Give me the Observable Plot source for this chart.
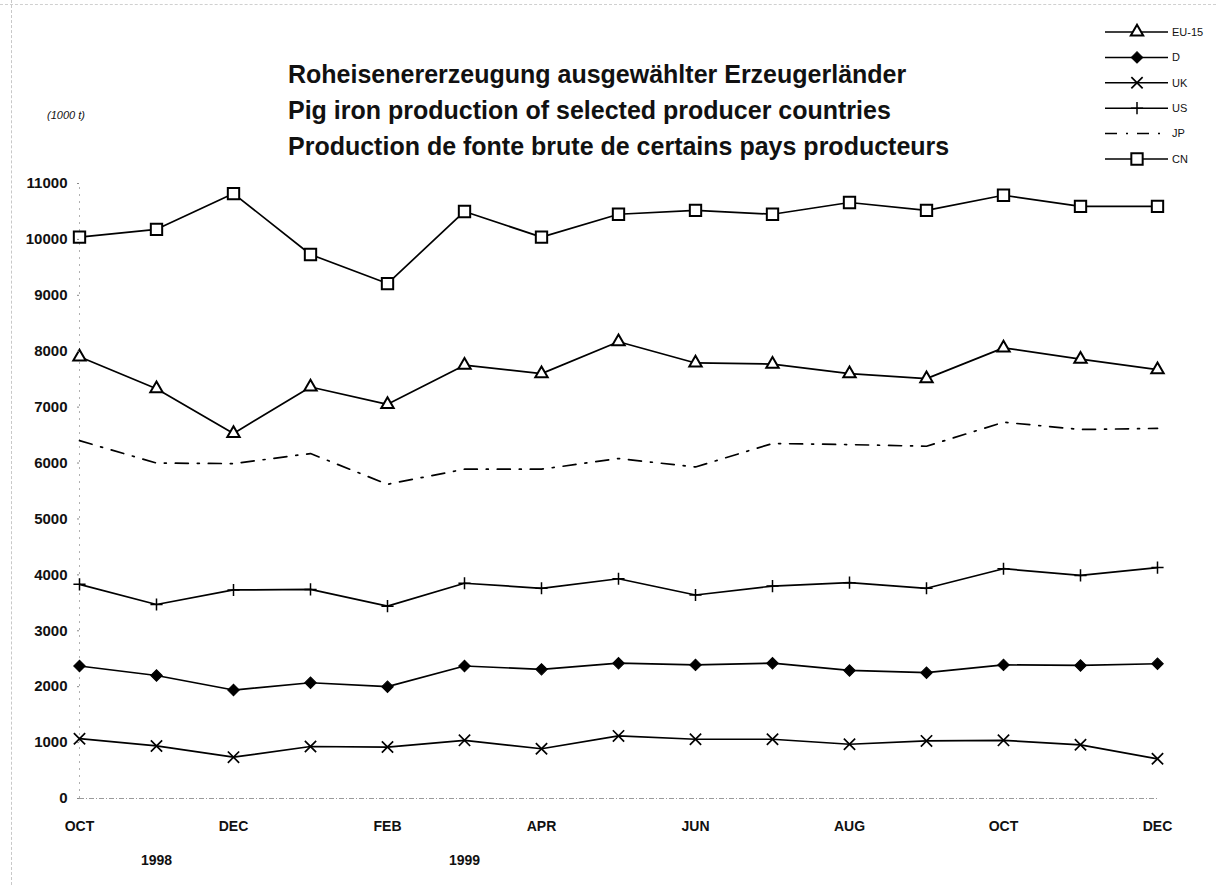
<!DOCTYPE html>
<html><head><meta charset="utf-8">
<script src="https://cdn.jsdelivr.net/npm/d3@7"></script>
<script src="https://cdn.jsdelivr.net/npm/@observablehq/plot@0.6"></script>
<style>
body{margin:0;background:#fff;}
#wrap{position:relative;width:1216px;height:885px;overflow:hidden;background:#fff;font-family:"Liberation Sans Narrow","Arial Narrow","Liberation Sans",Arial,sans-serif;}
#title{position:absolute;left:288px;top:56px;font-size:25px;line-height:36px;font-weight:bold;color:#111;white-space:nowrap;}
#unit{position:absolute;left:47px;top:109px;font-size:11px;font-style:italic;color:#111;}
#chart{position:absolute;left:0;top:0;}
#legend{position:absolute;left:1090px;top:16px;}
#bl{position:absolute;left:11px;top:0;width:0;height:885px;border-left:1px dashed #c8c8c8;}
#bt{position:absolute;left:0;top:4px;width:1216px;height:0;border-top:1px dashed #d0d0d0;}
</style></head>
<body><div id="wrap">
<div id="bl"></div><div id="bt"></div>
<div id="chart"></div>
<div id="title">Roheisenererzeugung ausgewählter Erzeugerländer<br>Pig iron production of selected producer countries<br>Production de fonte brute de certains pays producteurs</div>
<div id="unit">(1000 t)</div>
<div id="legend"></div>
</div>
<script>
const months = ["1998-10","1998-11","1998-12","1999-01","1999-02","1999-03","1999-04","1999-05","1999-06","1999-07","1999-08","1999-09","1999-10","1999-11","1999-12"];
const tickMonths = ["1998-10","1998-12","1999-02","1999-04","1999-06","1999-08","1999-10","1999-12"];
const monthNames = {"01":"JAN","02":"FEB","03":"MAR","04":"APR","05":"MAY","06":"JUN","07":"JUL","08":"AUG","09":"SEP","10":"OCT","11":"NOV","12":"DEC"};
const yearLabels = [{month:"1998-11", text:"1998"}, {month:"1999-03", text:"1999"}];
const yTicks = [0,1000,2000,3000,4000,5000,6000,7000,8000,9000,10000,11000];

const seriesNames = ["EU-15","D","UK","US","JP","CN"];
const EU15 = [7900, 7330, 6530, 7360, 7050, 7750, 7600, 8170, 7790, 7770, 7600, 7510, 8060, 7860, 7670];
const D    = [2370, 2200, 1940, 2070, 2000, 2370, 2310, 2420, 2390, 2420, 2290, 2250, 2390, 2380, 2410];
const UK   = [1070, 940, 740, 930, 920, 1040, 890, 1120, 1060, 1060, 970, 1030, 1040, 960, 710];
const US   = [3830, 3470, 3730, 3740, 3440, 3850, 3760, 3930, 3640, 3800, 3860, 3760, 4110, 3990, 4130];
const JP   = [6400, 6000, 5990, 6170, 5620, 5890, 5890, 6080, 5930, 6350, 6330, 6300, 6730, 6600, 6620];
const CN   = [10040, 10180, 10820, 9730, 9210, 10500, 10040, 10450, 10520, 10450, 10660, 10520, 10790, 10590, 10590];

const styles = {
  "EU-15": {symbol:"triangle", r:4.6, fill:"white", stroke:"black", sw:2, rotate:0},
  "D":     {symbol:"square", r:4.6, fill:"black", stroke:"black", sw:1, rotate:45},
  "UK":    {symbol:"times", r:5.2, fill:"none", stroke:"black", sw:1.7, rotate:0},
  "US":    {symbol:"plus", r:4, fill:"none", stroke:"black", sw:1.5, rotate:0},
  "JP":    {symbol:null, dash:"13,9,2,9"},
  "CN":    {symbol:"square", r:6.4, fill:"white", stroke:"black", sw:2, rotate:0}
};
const valuesBy = {"EU-15":EU15, "D":D, "UK":UK, "US":US, "JP":JP, "CN":CN};

const rows = [];
seriesNames.forEach(s => valuesBy[s].forEach((v,i) => rows.push({series:s, month:months[i], value:v})));

const marks = [
  Plot.ruleY([0], {stroke:"#9a9a9a", strokeWidth:1, strokeDasharray:"5,2,1,2"}),
  Plot.ruleX([months[0]], {y1:0, y2:11000, stroke:"#b0b0b0", strokeWidth:1, strokeDasharray:"2,5"})
];
seriesNames.forEach(s => {
  const st = styles[s];
  const data = rows.filter(d => d.series === s);
  marks.push(Plot.line(data, {x:"month", y:"value", stroke:"black", strokeWidth:1.7, strokeDasharray: st.dash || null}));
});
seriesNames.forEach(s => {
  const st = styles[s];
  if (!st.symbol) return;
  const data = rows.filter(d => d.series === s);
  marks.push(Plot.dot(data, {x:"month", y:"value", symbol:st.symbol, r:st.r, fill:st.fill, stroke:st.stroke, strokeWidth:st.sw, rotate:st.rotate}));
});
marks.push(
  Plot.axisY({ticks:yTicks, tickFormat:"d", tickSize:2, tickPadding:10, fontSize:15, fontWeight:"bold", stroke:"#888"}),
  Plot.axisX({ticks:tickMonths, tickFormat:m => monthNames[m.slice(5)], tickSize:0, tickPadding:23, fontSize:14, fontWeight:"bold"}),
  Plot.text(yearLabels, {x:"month", text:"text", frameAnchor:"bottom", dy:62, fontSize:14, fontWeight:"bold", lineAnchor:"middle"})
);

const chart = Plot.plot({
  width:1216, height:885,
  marginTop:183, marginBottom:87, marginLeft:79, marginRight:59,
  x:{type:"point", domain:months, padding:0, label:null},
  y:{domain:[0,11000], label:null},
  style:{fontFamily:'"Liberation Sans Narrow","Arial Narrow","Liberation Sans",Arial,sans-serif', color:"#111", background:"transparent", overflow:"visible"},
  marks
});
document.getElementById("chart").appendChild(chart);

// legend
const lg = d3.select("#legend").append("svg").attr("width",120).attr("height",160)
  .style("font-family",'"Liberation Sans Narrow","Arial Narrow","Liberation Sans",Arial,sans-serif');
const symMap = {triangle:d3.symbolTriangle, square:d3.symbolSquare, times:d3.symbolTimes, plus:d3.symbolPlus};
seriesNames.forEach((s,i) => {
  const st = styles[s];
  const y = 16 + i*25.4;
  const g = lg.append("g").attr("transform",`translate(0,${y})`);
  g.append("line").attr("x1",15).attr("x2",78).attr("y1",0).attr("y2",0)
    .attr("stroke","black").attr("stroke-width",1.5).attr("stroke-dasharray", st.dash ? "12,9,2,9" : null);
  if (st.symbol) {
    g.append("path").attr("d", d3.symbol(symMap[st.symbol], Math.PI*st.r*st.r)())
      .attr("transform",`translate(47,0) rotate(${st.rotate})`)
      .attr("fill",st.fill).attr("stroke",st.stroke).attr("stroke-width",st.sw);
  }
  g.append("text").attr("x",82).attr("y",0).attr("dy","0.35em").attr("font-size",11).attr("fill","#111").text(s);
});
</script>
</body></html>
